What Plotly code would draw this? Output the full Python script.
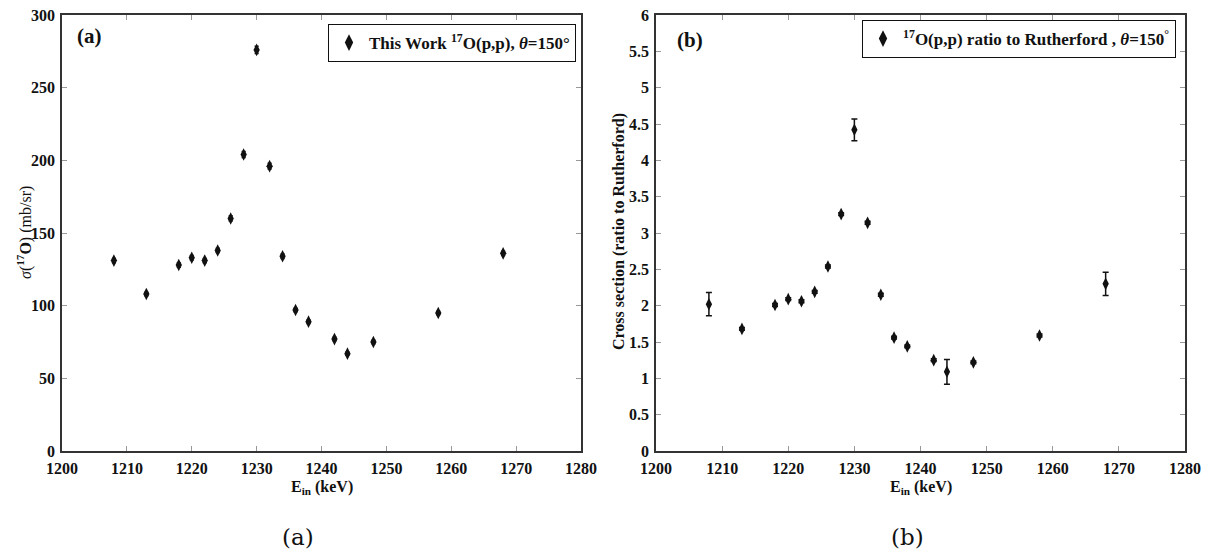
import plotly.graph_objects as go
from plotly.subplots import make_subplots

# -------- DATA --------
energy = [1208, 1213, 1218, 1220, 1222, 1224, 1226, 1228, 1230, 1232,
          1234, 1236, 1238, 1242, 1244, 1248, 1258, 1268]

sigma = [131, 108, 128, 133, 131, 138, 160, 204, 276, 196,
         134, 97, 89, 77, 67, 75, 95, 136]
sigma_err = [1.5, 1.2, 1.5, 1.5, 1.5, 1.5, 1.8, 2, 2.5, 2,
             1.5, 1.2, 1.2, 1.2, 1.2, 1.2, 1.2, 1.5]

ratio = [2.02, 1.68, 2.01, 2.09, 2.06, 2.19, 2.54, 3.26, 4.42, 3.14,
         2.15, 1.56, 1.44, 1.25, 1.09, 1.22, 1.59, 2.30]
ratio_err = [0.16, 0.02, 0.02, 0.02, 0.02, 0.02, 0.02, 0.02, 0.15, 0.02,
             0.02, 0.02, 0.02, 0.02, 0.17, 0.02, 0.02, 0.16]

x_ticks = [1200, 1210, 1220, 1230, 1240, 1250, 1260, 1270, 1280]
y1_ticks = [0, 50, 100, 150, 200, 250, 300]
y2_ticks = [0, 0.5, 1, 1.5, 2, 2.5, 3, 3.5, 4, 4.5, 5, 5.5, 6]

# -------- LAYOUT HELPERS --------
W, H = 1212, 552
PAGE_OFFSET = 8  # default body margin of the html page


def px(x):
    return (x - PAGE_OFFSET) / W


def py(y):
    return 1 - (y - PAGE_OFFSET) / H


# -------- STYLE --------
SERIF = "Liberation Serif"
BLACK = "#111111"
marker = dict(symbol="diamond-tall", size=9, color=BLACK)
tick_font = dict(family=SERIF, size=16, color=BLACK, weight="bold")
title_font = dict(family=SERIF, size=16, color=BLACK, weight="bold")

fig = make_subplots(rows=1, cols=2)

fig.add_trace(go.Scatter(
    x=energy, y=sigma, mode="markers", marker=marker,
    error_y=dict(type="data", array=sigma_err, color=BLACK, thickness=1.5, width=2),
    name="This Work <sup>17</sup>O(p,p), <i>θ</i>=150°",
    legend="legend"
), row=1, col=1)

fig.add_trace(go.Scatter(
    x=energy, y=ratio, mode="markers", marker=marker,
    error_y=dict(type="data", array=ratio_err, color=BLACK, thickness=1.5, width=3),
    name="<sup>17</sup>O(p,p) ratio to Rutherford , <i>θ</i>=150<sup>°</sup>",
    legend="legend2"
), row=1, col=2)

axis_common = dict(
    showgrid=False, zeroline=False, automargin=False,
    showline=True, linecolor="#333333", linewidth=1.5, mirror="ticks",
    ticks="inside", ticklen=5, tickcolor="#999999", tickwidth=1,
    tickfont=tick_font, ticklabelstandoff=2, ticklabeloverflow="allow",
)

fig.update_xaxes(range=[1200, 1280], tickvals=x_ticks, **axis_common)
fig.update_xaxes(domain=[px(62), px(581)], row=1, col=1)
fig.update_xaxes(domain=[px(656), px(1185)], row=1, col=2)

fig.update_yaxes(**axis_common)
fig.update_yaxes(domain=[py(451), py(15)], range=[0, 300], tickvals=y1_ticks, row=1, col=1)
fig.update_yaxes(domain=[py(451), py(15)], range=[0, 6], tickvals=y2_ticks,
                 ticktext=[f"{v:g}" for v in y2_ticks], row=1, col=2)

legend_common = dict(
    bgcolor="white", bordercolor=BLACK, borderwidth=1,
    font=dict(family=SERIF, size=17, color=BLACK, weight="bold"),
    xanchor="right", yanchor="top", itemsizing="constant",
    itemwidth=30, tracegroupgap=0,
)

fig.update_layout(
    width=W, height=H,
    margin=dict(l=0, r=0, t=0, b=0),
    plot_bgcolor="white", paper_bgcolor="white",
    showlegend=True,
    legend=dict(x=px(576), y=py(24), **legend_common),
    legend2=dict(x=px(1176), y=py(20), **legend_common),
)

# axis titles
for xc in (322, 921):
    fig.add_annotation(text="E<sub>in</sub> (keV)", xref="paper", yref="paper",
                       x=px(xc), y=py(487), xanchor="center", yanchor="middle",
                       showarrow=False, font=title_font)
fig.add_annotation(text="<span style='font-weight:normal'><i>σ</i>(</span><sup>17</sup>O"
                        "<span style='font-weight:normal'>) (mb/sr)</span>",
                   xref="paper", yref="paper", textangle=-90,
                   x=px(25), y=py(233), xanchor="center", yanchor="middle",
                   showarrow=False, font=title_font)
fig.add_annotation(text="Cross section (ratio to Rutherford)", xref="paper", yref="paper",
                   textangle=-90, x=px(619), y=py(232),
                   xanchor="center", yanchor="middle", showarrow=False, font=title_font)

# panel labels
fig.add_annotation(text="<b>(a)</b>", xref="paper", yref="paper",
                   x=px(75), y=py(36), xanchor="left", yanchor="middle", showarrow=False,
                   font=dict(family=SERIF, size=21, color=BLACK))
fig.add_annotation(text="<b>(b)</b>", xref="paper", yref="paper",
                   x=px(675), y=py(40), xanchor="left", yanchor="middle", showarrow=False,
                   font=dict(family=SERIF, size=21, color=BLACK))

# captions
for xc, label in ((298, "(a)"), (907, "(b)")):
    fig.add_annotation(text=label, xref="paper", yref="paper",
                       x=px(xc), y=py(537), xanchor="center", yanchor="middle",
                       showarrow=False,
                       font=dict(family="DejaVu Serif", size=23, color=BLACK))

fig.write_html("out.html")
